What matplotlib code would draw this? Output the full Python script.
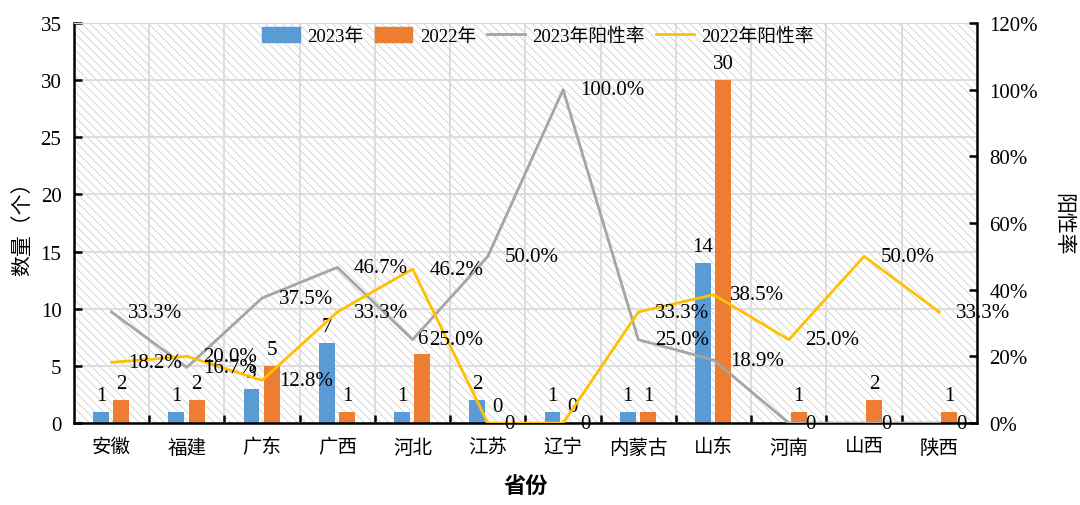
import numpy as np
import matplotlib.pyplot as plt
from matplotlib.patches import Rectangle, Patch
from matplotlib.lines import Line2D

plt.rcParams['font.family'] = ['Liberation Serif', 'Noto Sans CJK SC']
plt.rcParams['hatch.linewidth'] = 0.6

# data
provinces = ['安徽', '福建', '广东', '广西', '河北', '江苏', '辽宁', '内蒙古', '山东', '河南', '山西', '陕西']
count_2023 = [1, 1, 3, 7, 1, 2, 1, 1, 14, 0, 0, 0]
count_2022 = [2, 2, 5, 1, 6, 0, 0, 1, 30, 1, 2, 1]
rate_2023 = [33.3, 16.7, 37.5, 46.7, 25.0, 50.0, 100.0, 25.0, 18.9, 0, 0, 0]
rate_2022 = [18.2, 20.0, 12.8, 33.3, 46.2, 0, 0, 33.3, 38.5, 25.0, 50.0, 33.3]

blue = '#5B9BD5'
orange = '#ED7D31'
gray = '#A5A5A5'
yellow = '#FFC000'
grid_c = '#D9D9D9'

fig = plt.figure(figsize=(10.8, 5.06), dpi=100)
ax = fig.add_axes([0.0685, 0.162, 0.8361, 0.7906])
ax2 = ax.twinx()

x = np.arange(len(provinces))
w = 0.21

# hatched background
ax.add_patch(Rectangle((0, 0), 1, 1, transform=ax.transAxes, facecolor='white',
                       edgecolor='#CFCFCF', hatch='\\\\\\\\', lw=0, zorder=0.1))

ax.bar(x - 0.14, count_2023, w, color=blue, zorder=2)
ax.bar(x + 0.13, count_2022, w, color=orange, zorder=2)

for i in range(len(x)):
    if count_2023[i] != 0:
        ax.annotate(str(count_2023[i]), (x[i] - 0.14, count_2023[i]), xytext=(0, 5),
                    textcoords='offset points', ha='center', va='bottom', fontsize=15)
    ax.annotate(str(count_2022[i]), (x[i] + 0.13, count_2022[i]), xytext=(0, 5),
                textcoords='offset points', ha='center', va='bottom', fontsize=15)

ax.set_xlim(-0.5, len(x) - 0.5)
ax.set_ylim(0, 35)
ax.set_yticks(range(0, 36, 5))
ax.set_xticks(x)
ax.set_xticklabels(provinces, fontsize=14)
ax.set_xticks(np.arange(0.5, len(x) - 0.5, 1), minor=True)
ax.tick_params(axis='x', which='major', length=0, pad=11)
ax.tick_params(axis='x', which='minor', direction='in', length=6, width=1.8)
ax.tick_params(axis='y', direction='in', length=6, width=1.8, labelsize=15, pad=9)
ax.grid(True, axis='y', color=grid_c, lw=1.2)
ax.grid(True, axis='x', which='minor', color=grid_c, lw=1.2)
ax.set_axisbelow(True)
ax.set_ylabel('数量（个）', fontsize=15, labelpad=5)
ax.set_xlabel('省份', fontsize=16, fontweight='bold', labelpad=14)

for s in ['left', 'bottom']:
    ax.spines[s].set_linewidth(1.8)
ax.spines['top'].set_color(grid_c)
ax.spines['right'].set_visible(False)
ax2.spines['top'].set_visible(False)
ax2.spines['left'].set_visible(False)
ax2.spines['bottom'].set_visible(False)
ax2.spines['right'].set_linewidth(1.8)

# rate lines
ax2.plot(x, rate_2023, color=gray, lw=2, zorder=3)
ax2.plot(x, rate_2022, color=yellow, lw=2, zorder=3)
for rates in (rate_2023, rate_2022):
    for i, r in enumerate(rates):
        txt = '0' if r == 0 else f'{r:.1f}%'
        ax2.annotate(txt, (x[i], r), xytext=(12, 0), textcoords='offset points',
                     ha='left', va='center', fontsize=15)

ax2.set_ylim(0, 120)
ax2.set_yticks(range(0, 121, 20))
ax2.set_yticklabels([f'{v}%' for v in range(0, 121, 20)])
ax2.tick_params(axis='y', direction='in', length=6, width=1.8, labelsize=15, pad=9)
ax2.set_ylabel('阳性率', fontsize=15, rotation=-90, labelpad=24)

handles = [Patch(color=blue), Patch(color=orange),
           Line2D([], [], color=gray, lw=2), Line2D([], [], color=yellow, lw=2)]
labels = ['2023年', '2022年', '2023年阳性率', '2022年阳性率']
ax.legend(handles, labels, loc='center', bbox_to_anchor=(0.514, 0.967), ncol=4,
          frameon=False, fontsize=13.5, handlelength=2.0, handleheight=0.8,
          columnspacing=0.6, handletextpad=0.4)

fig.savefig('out.png', dpi=100)
